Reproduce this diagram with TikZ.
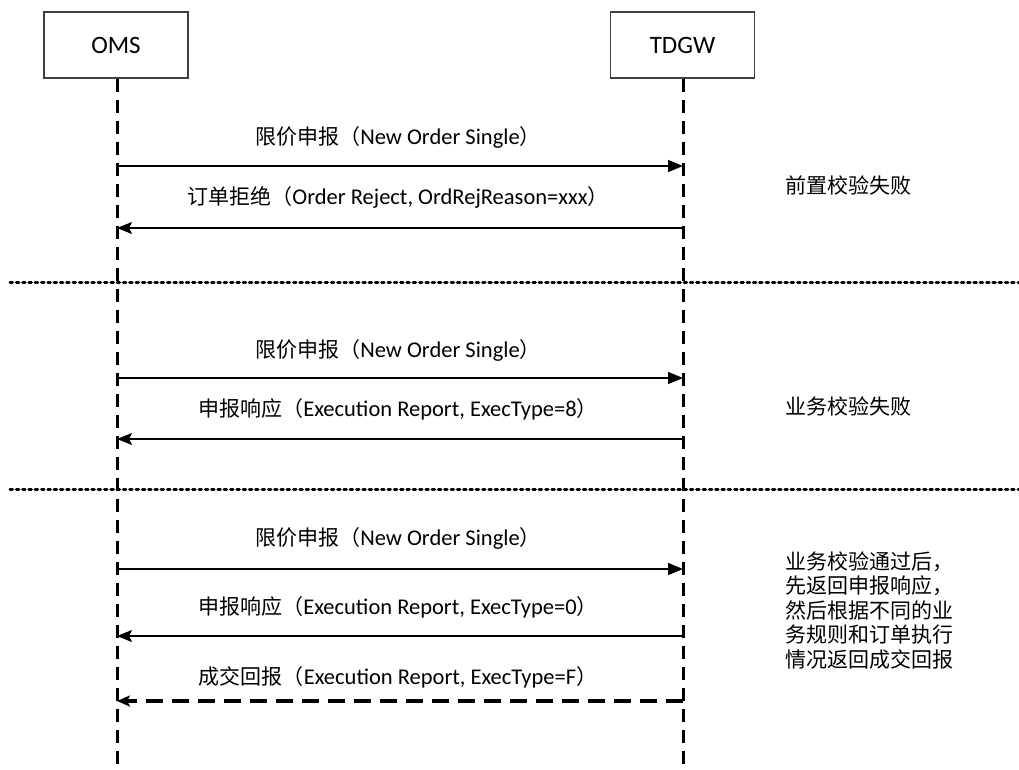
\documentclass[tikz,border=0pt]{standalone}
\usepackage{fontspec}
\setmainfont{Carlito}
\newfontfamily\cjk{Noto Sans CJK SC}
\usetikzlibrary{arrows.meta}
\newcommand{\cj}[1]{{\cjk\fontsize{21}{24}\selectfont #1}}
\begin{document}
\begin{tikzpicture}[x=1pt,y=-1pt,
  actor/.style={draw=black!75,line width=1.3pt,minimum width=144pt,minimum height=66pt,inner sep=0pt,font=\fontsize{25}{27}\selectfont},
  lifeline/.style={line width=3pt,dash pattern=on 13pt off 8pt},
  msg/.style={line width=1.5pt,-{Triangle[length=15pt,width=12pt]}},
  ret/.style={line width=1.5pt,-{Stealth[length=15pt,width=12pt,inset=3pt]}},
  dret/.style={line width=3.5pt,dash pattern=on 17pt off 9pt,-{Stealth[length=13pt,width=11pt,inset=3pt]}},
  sep/.style={line width=3pt,line cap=round,dash pattern=on 2.5pt off 3.8pt},
  lbl/.style={font=\fontsize{22.5}{24}\selectfont,inner sep=0pt},
  note/.style={font=\cjk\fontsize{21}{24.5}\selectfont,inner sep=0pt,align=left,anchor=north west}]
\useasboundingbox (0,0) rectangle (1019,769);
\node[actor] (oms) at (116,45) {OMS};
\node[actor] (tdgw) at (682.5,45) {TDGW};
\coordinate (oend) at (117,769);
\coordinate (tend) at (683,769);
\draw[lifeline] (oms.south -| oend) -- (oend);
\draw[lifeline] (tdgw.south -| tend) -- (tend);
% section 1
\coordinate (o1) at (117,166); \coordinate (t1) at (683,166);
\coordinate (o2) at (117,228); \coordinate (t2) at (683,228);
\draw[msg] (o1) -- (t1);
\draw[ret] (t2) -- (o2);
\node[lbl] (l1) at (398,137) {\cj{限价申报（}New Order Single\cj{）}};
\node[lbl] (l2) at (398,197) {\cj{订单拒绝（}Order Reject, OrdRejReason=xxx\cj{）}};
\node[note,anchor=west] (n1) at (785,185) {前置校验失败};
\coordinate (s1a) at (10,282); \coordinate (s1b) at (1019,282);
\draw[sep] (s1a) -- (s1b);
% section 2
\coordinate (o3) at (117,378); \coordinate (t3) at (683,378);
\coordinate (o4) at (117,439); \coordinate (t4) at (683,439);
\draw[msg] (o3) -- (t3);
\draw[ret] (t4) -- (o4);
\node[lbl] (l3) at (398,350) {\cj{限价申报（}New Order Single\cj{）}};
\node[lbl] (l4) at (398,409) {\cj{申报响应（}Execution Report, ExecType=8\cj{）}};
\node[note,anchor=west] (n2) at (785,406) {业务校验失败};
\coordinate (s2a) at (10,489); \coordinate (s2b) at (1019,489);
\draw[sep] (s2a) -- (s2b);
% section 3
\coordinate (o5) at (117,569); \coordinate (t5) at (683,569);
\coordinate (o6) at (117,636); \coordinate (t6) at (683,636);
\coordinate (o7) at (117,701); \coordinate (t7) at (683,701);
\draw[msg] (o5) -- (t5);
\draw[ret] (t6) -- (o6);
\draw[dret] (t7) -- (o7);
\node[lbl] (l5) at (398,538) {\cj{限价申报（}New Order Single\cj{）}};
\node[lbl] (l6) at (398,607) {\cj{申报响应（}Execution Report, ExecType=0\cj{）}};
\node[lbl] (l7) at (398,677) {\cj{成交回报（}Execution Report, ExecType=F\cj{）}};
\node[note] (n3) at (785,551) {业务校验通过后，\\先返回申报响应，\\然后根据不同的业\\务规则和订单执行\\情况返回成交回报};
\end{tikzpicture}
\end{document}
